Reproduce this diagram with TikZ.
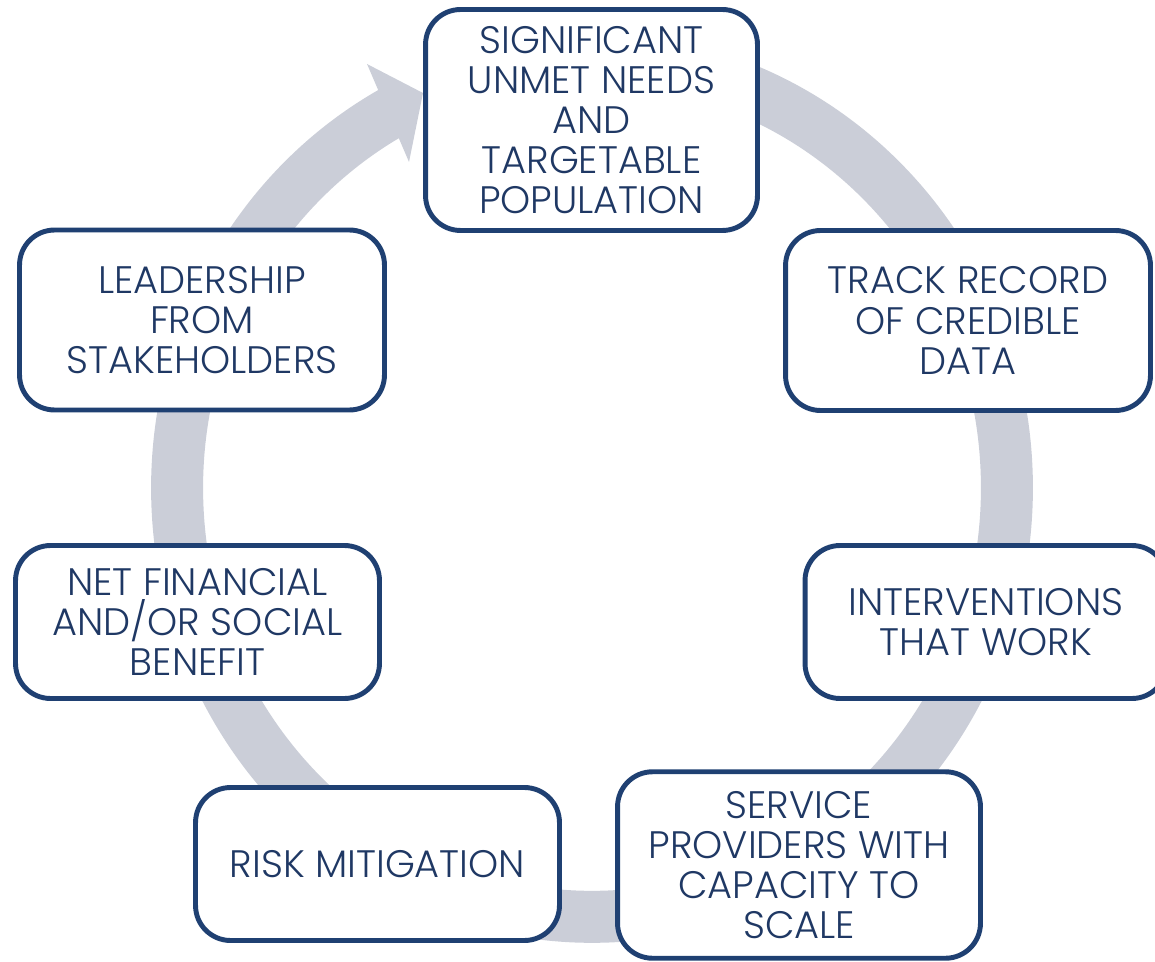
\documentclass[tikz,border=0pt]{standalone}
\usepackage{fontspec}
\setmainfont{Poppins Light}
\definecolor{ringgray}{HTML}{CBCED8}
\definecolor{boxblue}{HTML}{1F4072}
\definecolor{textblue}{HTML}{1F3864}

\begin{document}
\begin{tikzpicture}[x=0.02cm,y=0.02cm,
  stage/.style={rectangle,rounded corners=0.7cm,draw=boxblue,line width=2.8pt,fill=white,
    text=textblue,align=center,inner sep=0pt,font=\fontsize{21.8}{22.8}\selectfont}]
\useasboundingbox (0,0) rectangle (1155,-962);
\clip (0,0) rectangle (1155,-962);

\draw[ringgray,line width=1.04cm] (592,-59) arc[start angle=90,end angle=-242,x radius=8.3cm,y radius=8.58cm];
\fill[ringgray] (367,-64) -- (423,-93) -- (409,-162) -- cycle;

\path (591.5,-120) node[stage,minimum width=6.64cm,minimum height=4.42cm] (s1) {SIGNIFICANT\\UNMET NEEDS\\AND\\TARGETABLE\\POPULATION};
\path (968,-320.5) node[stage,minimum width=7.3cm,minimum height=3.6cm] (s2) {TRACK RECORD\\OF CREDIBLE\\DATA};
\path (986,-622) node[stage,minimum width=7.24cm,minimum height=3.06cm] (s3) {INTERVENTIONS\\THAT WORK};
\path (799,-865) node[stage,minimum width=7.26cm,minimum height=3.73cm] (s4) {SERVICE\\PROVIDERS WITH\\CAPACITY TO\\SCALE};
\path (377.5,-864) node[stage,minimum width=7.28cm,minimum height=3.06cm] (s5) {RISK MITIGATION};
\path (197.5,-622) node[stage,minimum width=7.28cm,minimum height=3.06cm] (s6) {NET FINANCIAL\\AND/OR SOCIAL\\BENEFIT};
\path (202,-320) node[stage,minimum width=7.3cm,minimum height=3.6cm] (s7) {LEADERSHIP\\FROM\\STAKEHOLDERS};
\end{tikzpicture}
\end{document}
